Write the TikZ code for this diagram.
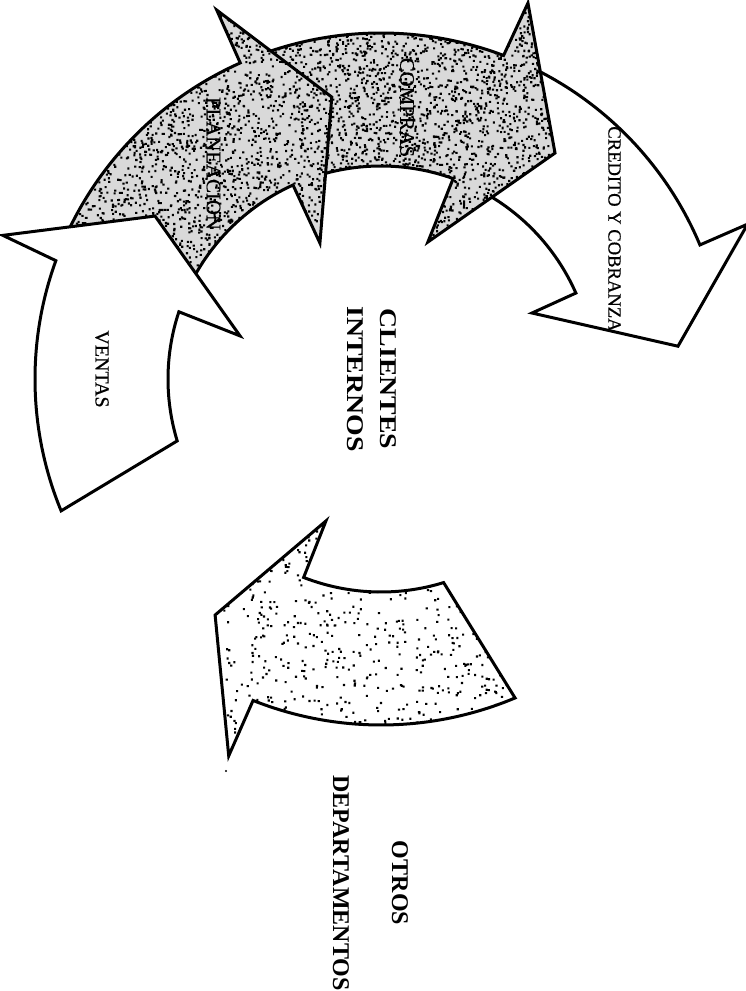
\documentclass[tikz,border=0pt]{standalone}
\usepackage{fontspec}
\setmainfont{Liberation Serif}
\newfontfamily\rotfont[FakeBold=0.5]{Liberation Serif}
\newcommand\motas[5]{% cantidad, x, y, ancho, alto
  \fill[black] \foreach \k in {1,...,#1}{({#2+#4*rnd},{#3+#5*rnd}) rectangle ++(2.1,2.1)};}
\begin{document}
\begin{tikzpicture}[x=.5pt, y=.5pt, line join=miter,
    flecha/.style={draw=black, line width=1.5pt},
    gris/.style={fill=gray!30},
    rotulo/.style={rotate=-90, inner sep=0pt, font=\rotfont\fontsize{10}{12}\selectfont},
    titulo/.style={rotate=-90, inner sep=0pt, align=center, font=\bfseries\fontsize{12}{16.5}\selectfont}]
  \def\ri{213} \def\ro{346} % radio interior, radio exterior
  \useasboundingbox (-381,-612) rectangle (364,379);
  \pgfmathsetseed{2024}
  % contornos de las flechas (centro en el origen)
  \def\ventas{(202.4:\ro) arc[start angle=202.4, end angle=160, radius=\ro] -- (159.2:404.5) -- (144.2:278.6) -- (163:147.4) -- (161.6:\ri) arc[start angle=161.6, end angle=196.9, radius=\ri] -- cycle}
  \def\planeacion{(156:\ro) arc[start angle=156, end angle=114, radius=\ro] -- (114:403.8) -- (99.9:286.2) -- (114.2:149) -- (114.4:\ri) arc[start angle=114.4, end angle=156, radius=\ri] -- cycle}
  \def\compras{(110:\ro) arc[start angle=110, end angle=69.25, radius=\ro] -- (68.65:403.7) -- (52.4:285.2) -- (71.1:144.8) -- (70.2:\ri) arc[start angle=70.2, end angle=110, radius=\ri] -- cycle}
  \def\credito{(64:\ro) arc[start angle=64, end angle=22.8, radius=\ro] -- (22.9:398) -- (6.3:298.8) -- (23.6:164.8) -- (23.8:\ri) arc[start angle=23.8, end angle=64, radius=\ri] -- cycle}
  \def\otros{(292.8:\ro) arc[start angle=292.8, end angle=248.3, radius=\ro] -- (248:406.5) -- (234.9:288.5) -- (248.8:152.3) -- (248.7:\ri) arc[start angle=248.7, end angle=287.1, radius=\ri] -- cycle}
  % otros departamentos
  \fill[white] \otros;
  \begin{scope}
    \clip \otros;
    \motas{800}{-171}{-381}{310}{245}
  \end{scope}
  \draw[flecha] \otros;
  % credito y cobranza
  \draw[flecha, fill=white] \credito;
  % compras
  \fill[gris] \compras;
  \begin{scope}
    \clip \compras;
    \motas{3000}{-111}{134}{290}{245}
  \end{scope}
  \draw[flecha] \compras;
  % planeacion
  \fill[gris] \planeacion;
  \begin{scope}
    \clip \planeacion;
    \motas{3000}{-321}{79}{275}{295}
  \end{scope}
  \draw[flecha] \planeacion;
  % ventas
  \draw[flecha, fill=white] \ventas;
  % textos
  \node[rotulo] (ventasT) at (-279,10) {VENTAS};
  \node[rotulo, font=\rotfont\fontsize{10.4}{12}\selectfont] (planeacionT) at (-167.5,215.5) {PLANEACION};
  \node[rotulo, font=\rotfont\fontsize{10.4}{12}\selectfont] (comprasT) at (26,271.5) {COMPRAS};
  \node[rotulo, font=\rotfont\fontsize{9.3}{11}\selectfont] (creditoT) at (233.5,150) {CREDITO Y COBRANZA};
  \node[titulo] (clientes) at (-9,0) {\scalebox{1.16}[1]{CLIENTES}\\\scalebox{1.16}[1]{INTERNOS}};
  \node[titulo, font=\bfseries\fontsize{12}{29.5}\selectfont] (otrosT) at (-10.5,-504) {OTROS\\DEPARTAMENTOS};
  \fill (-155,-392) circle (1.2);
\end{tikzpicture}
\end{document}
